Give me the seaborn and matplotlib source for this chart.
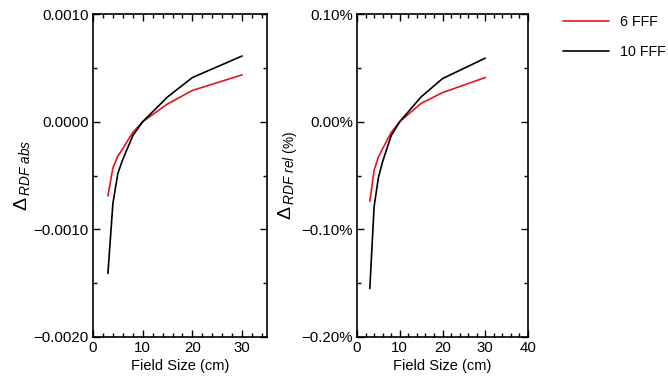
import matplotlib
matplotlib.use("Agg")
import matplotlib.pyplot as plt
import seaborn as sns
import pandas as pd
from matplotlib.ticker import MultipleLocator, FuncFormatter

# Field sizes (cm)
field_size = [3, 4, 5, 6, 8, 10, 15, 20, 30]

# Absolute RDF differences
abs_6fff = [-0.00069, -0.00043, -0.00032, -0.00025, -0.00010, 0.0, 0.000165, 0.00029, 0.000435]
abs_10fff = [-0.00141, -0.00076, -0.00048, -0.00035, -0.00013, 0.0, 0.00023, 0.00041, 0.00061]

# Relative RDF differences (%)
rel_6fff = [-0.074, -0.045, -0.033, -0.025, -0.010, 0.0, 0.017, 0.027, 0.041]
rel_10fff = [-0.155, -0.079, -0.052, -0.037, -0.013, 0.0, 0.023, 0.040, 0.059]

series_names = ["6 FFF", "10 FFF"]
palette = {"6 FFF": "#e8141c", "10 FFF": "#000000"}

sns.set_style("ticks")
plt.rcParams["font.family"] = ["Liberation Sans", "DejaVu Sans"]
plt.rcParams["mathtext.fontset"] = "custom"
plt.rcParams["mathtext.rm"] = "Liberation Sans"
plt.rcParams["mathtext.it"] = "Liberation Sans:italic"
plt.rcParams["axes.linewidth"] = 1.2
plt.rcParams["text.color"] = "black"
plt.rcParams["axes.labelcolor"] = "black"
plt.rcParams["xtick.color"] = "black"
plt.rcParams["ytick.color"] = "black"

n = len(field_size)
df_abs = pd.DataFrame({
    "Field Size": field_size * 2,
    "value": abs_6fff + abs_10fff,
    "series": [series_names[0]] * n + [series_names[1]] * n,
})
df_rel = pd.DataFrame({
    "Field Size": field_size * 2,
    "value": rel_6fff + rel_10fff,
    "series": [series_names[0]] * n + [series_names[1]] * n,
})

fig = plt.figure(figsize=(6.68, 3.83), dpi=100)
ax1 = fig.add_axes([93 / 668, 1 - 337 / 383, 174 / 668, 323 / 383])
ax2 = fig.add_axes([357 / 668, 1 - 337 / 383, 171 / 668, 323 / 383])

sns.lineplot(data=df_abs, x="Field Size", y="value", hue="series",
             palette=palette, ax=ax1, linewidth=1.2, legend=False)
sns.lineplot(data=df_rel, x="Field Size", y="value", hue="series",
             palette=palette, ax=ax2, linewidth=1.2, legend=True)

ax1.set_xlim(0, 35)
ax1.set_ylim(-0.002, 0.001)
ax1.yaxis.set_major_locator(MultipleLocator(0.001))
ax1.yaxis.set_minor_locator(MultipleLocator(0.0005))
ax1.yaxis.set_major_formatter(FuncFormatter(lambda v, p: f"{v:.4f}".replace("-", "\u2212")))
ax1.set_ylabel(r"$\Delta\,_{\mathit{RDF\ abs}}$", fontsize=14, labelpad=1)

ax2.set_xlim(0, 40)
ax2.set_ylim(-0.2, 0.1)
ax2.yaxis.set_major_locator(MultipleLocator(0.1))
ax2.yaxis.set_minor_locator(MultipleLocator(0.05))
ax2.yaxis.set_major_formatter(FuncFormatter(lambda v, p: f"{v:.2f}%".replace("-", "\u2212")))
ax2.set_ylabel(r"$\Delta\,_{\mathit{RDF\ rel\ (\%)}}$", fontsize=14, labelpad=1)

for ax in (ax1, ax2):
    ax.xaxis.set_major_locator(MultipleLocator(10))
    ax.xaxis.set_minor_locator(MultipleLocator(2))
    ax.set_xlabel("Field Size (cm)", fontsize=10.5, labelpad=3)
    ax.tick_params(which="both", direction="in", top=True, right=True,
                   labelsize=10.8, color="black", pad=3)
    ax.tick_params(which="major", length=5, width=1.0)
    ax.tick_params(which="minor", length=3, width=1.0)
    for s in ax.spines.values():
        s.set_visible(True)
        s.set_color("black")

handles, labels = ax2.get_legend_handles_labels()
ax2.get_legend().remove()
fig.legend(handles, labels, loc="upper left", bbox_to_anchor=(553 / 668, 1 - 5 / 383),
           frameon=False, fontsize=10.3, handlelength=3.2, handletextpad=0.8,
           labelspacing=1.1, borderaxespad=0.3)

fig.savefig("out.png", dpi=100)
